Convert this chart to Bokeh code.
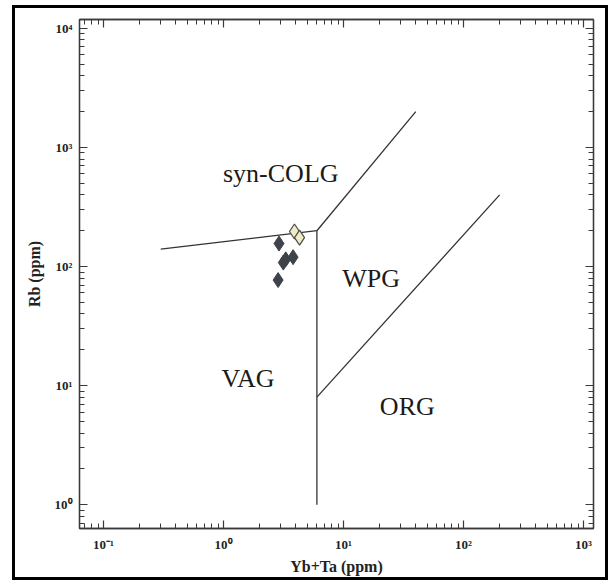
from bokeh.plotting import figure
from bokeh.layouts import column
from bokeh.models import LogAxis, FixedTicker, CustomJSTickFormatter, Label, Range1d
from bokeh.embed import file_html
from bokeh.resources import INLINE

# ---- discrimination boundaries (Pearce et al., Rb vs Yb+Ta) ----
vag_colg_x = [0.3, 6]
vag_colg_y = [140, 200]
colg_wpg_x = [6, 40]
colg_wpg_y = [200, 2000]
vag_org_x = [6, 6]
vag_org_y = [200, 1]
wpg_org_x = [6, 200]
wpg_org_y = [8, 400]

# ---- samples ----
dark_x = [2.9, 3.3, 3.8, 3.15, 2.85]
dark_y = [156, 115, 120, 108, 77]
light_x = [3.9, 4.3]
light_y = [197, 175]

# ---- field names ----
field_names = ["syn-COLG", "WPG", "VAG", "ORG"]
field_x = [3.0, 17.0, 1.6, 34.0]
field_y = [600, 80, 11.4, 6.7]

x_ticks = [0.1, 1, 10, 100, 1000]
y_ticks = [1, 10, 100, 1000, 10000]
x_minor = [m * 10 ** e for e in range(-2, 4) for m in range(2, 10)]
y_minor = [m * 10 ** e for e in range(-1, 5) for m in range(2, 10)]

SERIF = "Liberation Serif"
AXC = "#3a3a3a"

p = figure(width=590, height=569, x_axis_type="log", y_axis_type="log",
           x_range=Range1d(10 ** -1.2, 10 ** 3.083),
           y_range=Range1d(10 ** -0.2, 10 ** 4.075),
           output_backend="svg", toolbar_location=None,
           min_border_left=64, min_border_right=12,
           min_border_top=11, min_border_bottom=44)
p.grid.visible = False
p.outline_line_color = AXC
p.outline_line_width = 1.3

sup_code = """
const e = Math.round(Math.log10(tick));
const m = {"-": "\u207b", "0": "\u2070", "1": "\u00b9", "2": "\u00b2", "3": "\u00b3", "4": "\u2074"};
return "10" + String(e).split("").map(c => m[c]).join("");
"""


def style_axis(ax, ticks, minor, labels=True):
    ax.ticker = FixedTicker(ticks=ticks, minor_ticks=minor)
    ax.axis_line_color = AXC
    ax.axis_line_width = 1.3
    ax.major_tick_line_color = AXC
    ax.minor_tick_line_color = AXC
    ax.major_tick_line_width = 1.2
    ax.minor_tick_line_width = 1.0
    ax.major_tick_in = 8
    ax.major_tick_out = 0
    ax.minor_tick_in = 5
    ax.minor_tick_out = 0
    if labels:
        ax.formatter = CustomJSTickFormatter(code=sup_code)
        ax.major_label_text_font = SERIF
        ax.major_label_text_font_style = "bold"
        ax.major_label_text_font_size = "13px"
        ax.major_label_text_color = "#222222"
        ax.axis_label_text_font = SERIF
        ax.axis_label_text_font_style = "bold"
        ax.axis_label_text_font_size = "16px"
        ax.axis_label_text_color = "#222222"
    else:
        ax.formatter = CustomJSTickFormatter(code="return '';")
        ax.major_label_text_font_size = "0px"
        ax.major_label_standoff = 0
        ax.axis_label_standoff = 0


xa = p.xaxis[0]
ya = p.yaxis[0]
style_axis(xa, x_ticks, x_minor)
style_axis(ya, y_ticks, y_minor)
xa.axis_label = "Yb+Ta (ppm)"
ya.axis_label = "Rb (ppm)"
xa.major_label_standoff = 8
xa.axis_label_standoff = 3
ya.major_label_standoff = 7
ya.axis_label_standoff = 9

top = LogAxis()
style_axis(top, x_ticks, x_minor, labels=False)
p.add_layout(top, "above")
right = LogAxis()
style_axis(right, y_ticks, y_minor, labels=False)
p.add_layout(right, "right")

# boundaries
for bx, by in [(vag_colg_x, vag_colg_y), (colg_wpg_x, colg_wpg_y),
               (vag_org_x, vag_org_y), (wpg_org_x, wpg_org_y)]:
    p.line(bx, by, line_color="#333333", line_width=1.3)

# samples
p.scatter(dark_x, dark_y, marker="diamond", size=15,
          fill_color="#3d4349", line_color="#3d4349", line_width=1)
p.scatter(light_x, light_y, marker="diamond", size=15,
          fill_color="#efebc4", line_color="#4a4a4a", line_width=1.2)

# field labels
for name, fx, fy in zip(field_names, field_x, field_y):
    p.add_layout(Label(x=fx, y=fy, text=name, text_font=SERIF,
                       text_font_size="26px", text_color="#1a1a1a",
                       text_align="center", text_baseline="middle"))

layout = column(p, styles={"border": "3px solid black"})
layout.margin = (5, 0, 0, 12)

open("out.html", "w").write(file_html(layout, INLINE))
